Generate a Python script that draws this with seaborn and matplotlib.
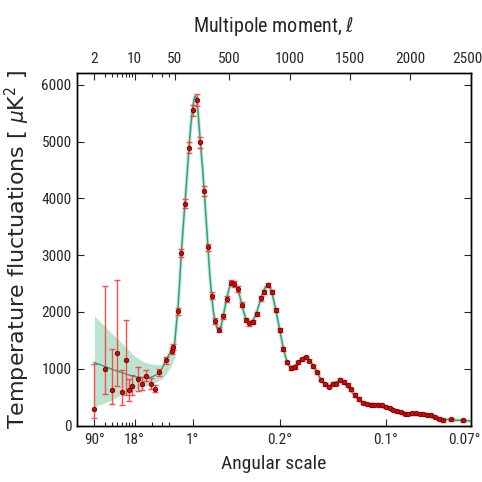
import numpy as np
import matplotlib
matplotlib.use("Agg")
import matplotlib.pyplot as plt
import matplotlib.transforms as mtransforms
import seaborn as sns
import pandas as pd

# ---------------- data ----------------
# low-ell points (asymmetric errors)
low_ell = [2, 3, 4, 5, 6, 7, 8, 9, 11.5, 13.5, 16, 19, 22.5, 27, 35, 45]
low_dl = [285, 995, 632, 1270, 585, 1155, 625, 695, 815, 740, 880, 741, 652, 935, 1152, 1310]
low_err_lo = [155, 433, 245, 580, 223, 615, 192, 160, 210, 110, 90, 90, 55, 70, 60, 55]
low_err_hi = [800, 1460, 715, 1300, 400, 695, 195, 190, 215, 110, 90, 90, 55, 70, 60, 55]

# high-ell binned points
high_ell = [47, 77, 105, 137, 170, 201, 233, 262, 295, 324,
            356, 386, 419, 450, 483, 514, 544, 574, 605, 638,
            668, 699, 732, 763, 793, 823, 855, 887, 919, 950,
            981, 1010, 1042, 1074, 1104, 1135, 1165, 1197, 1228, 1261,
            1294, 1324, 1357, 1388, 1418, 1448, 1482, 1512, 1545, 1576,
            1606, 1639, 1670, 1701, 1734, 1764, 1794, 1828, 1858, 1888,
            1919, 1952, 1983, 2013, 2046, 2077, 2107, 2137, 2168, 2199,
            2234, 2273, 2334, 2431]
high_dl = [1386, 2014, 3036, 3908, 4890, 5548, 5732, 4984, 4132, 3135,
           2286, 1840, 1686, 1922, 2228, 2515, 2492, 2404, 2127, 1862,
           1799, 1827, 1968, 2240, 2351, 2474, 2348, 2033, 1683, 1355,
           1111, 1016, 1028, 1114, 1166, 1199, 1142, 1043, 935, 808,
           728, 688, 741, 741, 804, 769, 716, 640, 540, 469,
           406, 381, 370, 370, 370, 358, 328, 310, 275, 252,
           240, 212, 205, 217, 217, 205, 205, 194, 182, 152,
           123, 93, 111, 93]
high_err = [55, 60, 70, 80, 95, 100, 100, 95, 85, 70,
            60, 50, 45, 45, 45, 45, 45, 45, 40, 40,
            40, 40, 40, 40, 40, 40, 40, 35, 35, 35,
            30, 30, 30, 30, 30, 30, 30, 30, 30, 30,
            30, 30, 30, 30, 30, 30, 30, 30, 30, 30,
            25, 25, 25, 25, 25, 25, 25, 25, 25, 25,
            25, 25, 25, 25, 25, 25, 25, 25, 25, 25,
            25, 25, 25, 25]

# best-fit model curve
model_ell = [2, 3, 4, 5, 6, 8, 10, 13, 16, 20, 25, 30, 35, 40, 45, 50, 60, 77, 90, 105,
             120, 137, 155, 170, 185, 201, 215, 222, 233, 245, 262, 280, 295, 310, 324, 340,
             356, 370, 386, 405, 419, 435, 450, 467, 483, 500, 514, 530, 544, 560, 574, 590,
             605, 620, 638, 653, 668, 685, 699, 715, 732, 748, 763, 778, 793, 808, 823, 840,
             855, 870, 887, 903, 919, 935, 950, 965, 981, 995, 1010, 1026, 1042, 1058, 1074,
             1089, 1104, 1120, 1135, 1150, 1165, 1181, 1197, 1212, 1228, 1244, 1261, 1277,
             1294, 1309, 1324, 1340, 1357, 1372, 1388, 1403, 1418, 1433, 1448, 1465, 1482,
             1497, 1512, 1528, 1545, 1560, 1576, 1590, 1606, 1622, 1639, 1655, 1670, 1686,
             1701, 1718, 1734, 1749, 1764, 1780, 1794, 1810, 1828, 1843, 1858, 1873, 1888,
             1904, 1919, 1935, 1952, 1968, 1983, 2000, 2013, 2030, 2046, 2062, 2077, 2092,
             2107, 2122, 2137, 2152, 2168, 2183, 2199, 2220, 2240, 2273, 2300, 2334, 2380,
             2431, 2500]
model_dl = [1110, 1045, 995, 960, 930, 890, 862, 848, 845, 855, 905, 1000, 1140, 1250, 1330,
            1440, 1680, 2050, 2480, 3020, 3480, 3950, 4480, 4920, 5320, 5620, 5780, 5800,
            5750, 5480, 5000, 4560, 4120, 3630, 3170, 2680, 2290, 2010, 1810, 1700, 1690,
            1760, 1910, 2090, 2260, 2410, 2500, 2540, 2515, 2460, 2390, 2270, 2140, 2010,
            1890, 1820, 1800, 1815, 1855, 1925, 2020, 2130, 2235, 2330, 2410, 2455, 2470,
            2430, 2340, 2200, 2035, 1860, 1690, 1510, 1360, 1225, 1120, 1060, 1030, 1030,
            1050, 1080, 1115, 1150, 1175, 1192, 1195, 1180, 1148, 1100, 1045, 990, 930, 870,
            812, 762, 726, 706, 700, 712, 732, 755, 772, 782, 782, 772, 752, 722, 684, 644,
            603, 562, 522, 484, 452, 425, 403, 388, 378, 372, 369, 366, 363, 359, 353, 344,
            334, 321, 309, 296, 281, 268, 256, 246, 238, 231, 225, 220, 216, 213, 211, 209,
            207, 204, 201, 197, 192, 187, 181, 174, 167, 159, 151, 144, 137, 129, 121, 113,
            107, 101, 95, 89, 82]

# cosmic-variance band at low ell
band_ell = [2, 3, 4, 5, 6, 8, 10, 13, 16, 20, 25, 30, 35, 40, 45, 50, 60]
band_lo = [330, 400, 450, 505, 535, 590, 623, 660, 700, 740, 775, 820, 900, 990, 1080, 1200, 1550]
band_hi = [1930, 1750, 1625, 1534, 1450, 1330, 1222, 1150, 1105, 1085, 1070, 1080, 1180, 1300, 1400, 1560, 1800]

top_ticks = [2, 10, 50, 500, 1000, 1500, 2000, 2500]
top_labels = ["2", "10", "50", "500", "1000", "1500", "2000", "2500"]
minor_ticks = [3, 4, 5, 6, 7, 8, 9, 20, 30, 40]
bottom_ticks = [2, 10, 200, 920, 1795, 2500]
bottom_labels = ["90°", "18°", "1°", "0.2°", "0.1°", "0.07°"]
y_ticks = [0, 1000, 2000, 3000, 4000, 5000, 6000]

# ---------------- style ----------------
sns.set_style("ticks")
NARROW = ["Liberation Sans Narrow", "DejaVu Sans Condensed", "Roboto Condensed",
          "Open Sans Condensed", "Liberation Sans", "DejaVu Sans"]
plt.rcParams["font.family"] = NARROW
plt.rcParams["font.stretch"] = "condensed"
plt.rcParams["mathtext.fontset"] = "dejavusans"

# hybrid log / linear scale
SPLIT = 50.0
K = 0.002107
LS = np.log10(SPLIT)


def fwd(x):
    x = np.asarray(x, dtype=float)
    xl = np.log10(np.clip(x, 1e-3, None))
    return np.where(x <= SPLIT, xl, LS + (x - SPLIT) * K)


def inv(y):
    y = np.asarray(y, dtype=float)
    return np.where(y <= LS, 10 ** np.clip(y, -10, 10), SPLIT + (y - LS) / K)


LINE = "#33a278"
BAND = "#aee0c8"
HALO = "#c6eadb"
RED = "#e60000"
ERR = "#ff3b3b"

fig = plt.figure(figsize=(4.82, 4.82), dpi=100)
ax = fig.add_axes([0.160, 0.117, 0.817, 0.732])
ax.set_xscale("function", functions=(fwd, inv))

ax.fill_between(band_ell, band_lo, band_hi, color=BAND, lw=0, alpha=0.85, zorder=1)

mdf = pd.DataFrame({"ell": model_ell, "dl": model_dl})
sns.lineplot(data=mdf, x="ell", y="dl", ax=ax, color=HALO, lw=2.6, sort=False,
             estimator=None, zorder=2, legend=False)
sns.lineplot(data=mdf, x="ell", y="dl", ax=ax, color=LINE, lw=1.1, sort=False,
             estimator=None, zorder=3, legend=False)

ax.errorbar(low_ell, low_dl, yerr=[low_err_lo, low_err_hi], fmt="none",
            ecolor=ERR, elinewidth=1.0, capsize=2.5, capthick=1.0, alpha=0.9, zorder=4)
ax.errorbar(high_ell, high_dl, yerr=high_err, fmt="none",
            ecolor=ERR, elinewidth=1.0, capsize=2.5, capthick=1.0, alpha=0.9, zorder=4)

pts = pd.DataFrame({"ell": low_ell + high_ell, "dl": low_dl + high_dl})
sns.scatterplot(data=pts, x="ell", y="dl", ax=ax, color=RED, s=11, marker="o",
                edgecolor="#3a0000", linewidth=0.5, zorder=5, legend=False)

ax.set_xlim(1, 2500)
ax.set_ylim(0, 6210)
ax.set_yticks(y_ticks)
ax.set_yticklabels([str(v) for v in y_ticks])

ax.set_xticks(bottom_ticks)
ax.set_xticklabels(bottom_labels)
ax.set_xticks(minor_ticks, minor=True)
ax.tick_params(axis="x", which="both", direction="in", top=False, bottom=True,
               labelsize=11, pad=5)
ax.tick_params(axis="x", which="major", length=5, width=0.8)
ax.tick_params(axis="x", which="minor", length=3, width=0.8)
ax.tick_params(axis="y", which="major", direction="in", left=True, right=True,
               length=5, width=0.8, labelsize=11, pad=4)
ax.set_xlabel("Angular scale", fontsize=14, labelpad=6)
ax.set_ylabel("Temperature fluctuations [ $\\mu$K$^2$ ]", fontsize=16,
              family="DejaVu Sans", stretch="normal", labelpad=7)

ax2 = ax.twiny()
ax2.set_xscale("function", functions=(fwd, inv))
ax2.set_xlim(1, 2500)
ax2.set_xticks(top_ticks)
ax2.set_xticklabels(top_labels)
ax2.set_xticks(minor_ticks, minor=True)
ax2.tick_params(axis="x", which="both", direction="in", top=True, bottom=False,
                labelsize=11, pad=5)
ax2.tick_params(axis="x", which="major", length=5, width=0.8)
ax2.tick_params(axis="x", which="minor", length=3, width=0.8)
ax2.set_xlabel("Multipole moment, $\\ell$", fontsize=14.5, labelpad=14)

# nudge the right-most tick labels so they stay inside the figure
for lab, dx in ((ax.get_xticklabels()[-1], -7), (ax2.get_xticklabels()[-1], -4)):
    lab.set_transform(lab.get_transform() +
                      mtransforms.ScaledTranslation(dx / 100.0, 0, fig.dpi_scale_trans))

for a in (ax, ax2):
    for s in a.spines.values():
        s.set_linewidth(1.0)
        s.set_color("black")

fig.savefig("out.png", dpi=100)
